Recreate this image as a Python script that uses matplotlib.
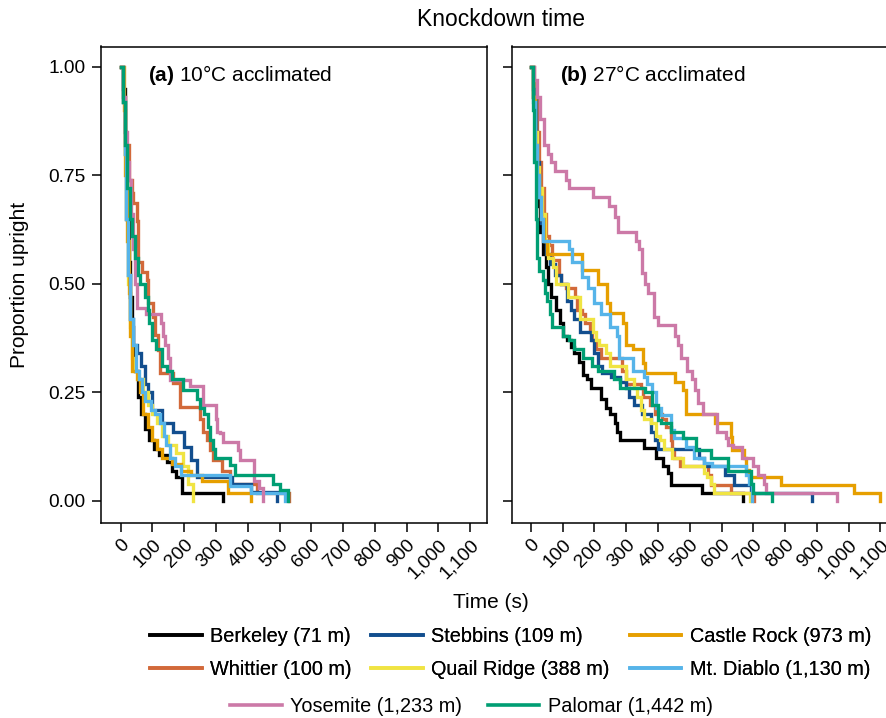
import matplotlib
matplotlib.use("Agg")
import matplotlib.pyplot as plt
from matplotlib.lines import Line2D

plt.rcParams['font.family'] = ['Liberation Sans', 'DejaVu Sans']
plt.rcParams['mathtext.fontset'] = 'custom'
plt.rcParams['mathtext.rm'] = 'Liberation Sans'
plt.rcParams['mathtext.bf'] = 'Liberation Sans:bold'

# ---------------- data ----------------
populations = ["Berkeley (71 m)", "Whittier (100 m)", "Stebbins (109 m)",
               "Quail Ridge (388 m)", "Castle Rock (973 m)", "Mt. Diablo (1,130 m)",
               "Yosemite (1,233 m)", "Palomar (1,442 m)"]
colors = ["#000000", "#D2693A", "#124E8E", "#F0E442", "#E69F00", "#56B4E9",
          "#CC79A7", "#009E73"]

# panel (a) 10 C acclimated : times (s) and proportion upright
berkeley_a_t = [0, 8, 12, 16, 20, 25, 30, 35, 40, 45, 55, 65, 75, 90, 105, 120, 145, 160, 175, 192, 321]
berkeley_a_s = [1.0, 0.95, 0.85, 0.75, 0.65, 0.55, 0.47, 0.40, 0.34, 0.30, 0.24, 0.20, 0.165, 0.14, 0.12, 0.105, 0.09, 0.07, 0.055, 0.018, 0]
whittier_a_t = [0, 8, 14, 25, 35, 40, 50, 55, 66, 82, 87, 103, 108, 118, 124, 163, 187, 250, 260, 272, 282, 292, 318, 344, 428, 530]
whittier_a_s = [1.0, 0.93, 0.82, 0.74, 0.71, 0.686, 0.644, 0.55, 0.528, 0.509, 0.456, 0.425, 0.382, 0.348, 0.294, 0.271, 0.217, 0.19, 0.16, 0.14, 0.117, 0.094, 0.07, 0.04, 0.018, 0]
stebbins_a_t = [0, 8, 12, 18, 24, 30, 40, 50, 65, 75, 85, 100, 130, 165, 200, 220, 240, 350, 410, 491]
stebbins_a_s = [1.0, 0.92, 0.8, 0.65, 0.52, 0.42, 0.36, 0.34, 0.31, 0.27, 0.25, 0.21, 0.18, 0.16, 0.125, 0.095, 0.056, 0.04, 0.02, 0]
quail_a_t = [0, 8, 12, 18, 24, 30, 35, 45, 55, 70, 85, 100, 115, 130, 150, 175, 195, 212, 229]
quail_a_s = [1.0, 0.92, 0.8, 0.65, 0.5, 0.4, 0.33, 0.3, 0.28, 0.25, 0.22, 0.2, 0.18, 0.15, 0.13, 0.11, 0.08, 0.04, 0]
castle_a_t = [0, 10, 15, 20, 25, 30, 35, 50, 60, 70, 85, 100, 115, 130, 160, 190, 220, 255, 338, 409]
castle_a_s = [1.0, 0.9, 0.75, 0.6, 0.48, 0.38, 0.3, 0.28, 0.25, 0.2, 0.17, 0.14, 0.12, 0.1, 0.085, 0.07, 0.06, 0.045, 0.018, 0]
diablo_a_t = [0, 8, 12, 18, 24, 30, 38, 48, 58, 68, 75, 95, 108, 125, 135, 142, 155, 170, 190, 345, 410, 517]
diablo_a_s = [1.0, 0.92, 0.8, 0.65, 0.52, 0.42, 0.36, 0.3, 0.28, 0.25, 0.23, 0.21, 0.2, 0.18, 0.15, 0.13, 0.1, 0.08, 0.06, 0.035, 0.018, 0]
yosemite_a_t = [0, 8, 14, 20, 26, 32, 38, 45, 51, 80, 128, 133, 138, 150, 156, 218, 260, 300, 304, 312, 323, 370, 376, 420, 435, 448]
yosemite_a_s = [1.0, 0.93, 0.85, 0.78, 0.74, 0.66, 0.58, 0.5, 0.445, 0.43, 0.41, 0.38, 0.36, 0.33, 0.279, 0.265, 0.22, 0.19, 0.16, 0.156, 0.136, 0.117, 0.094, 0.045, 0.03, 0]
palomar_a_t = [0, 8, 14, 20, 28, 35, 45, 55, 62, 75, 85, 90, 98, 110, 130, 145, 160, 195, 240, 248, 262, 275, 282, 290, 296, 345, 360, 480, 500, 525]
palomar_a_s = [1.0, 0.92, 0.82, 0.72, 0.65, 0.61, 0.56, 0.52, 0.5, 0.47, 0.44, 0.41, 0.37, 0.35, 0.31, 0.3, 0.28, 0.256, 0.235, 0.215, 0.2, 0.17, 0.14, 0.12, 0.1, 0.082, 0.06, 0.04, 0.025, 0]

# panel (b) 27 C acclimated
berkeley_b_t = [0, 6, 12, 18, 24, 30, 38, 48, 55, 62, 80, 92, 100, 115, 126, 137, 150, 165, 176, 189, 220, 235, 248, 264, 272, 280, 356, 395, 415, 430, 440, 540, 666]
berkeley_b_s = [1.0, 0.93, 0.82, 0.75, 0.68, 0.62, 0.57, 0.54, 0.5, 0.47, 0.44, 0.41, 0.38, 0.37, 0.355, 0.34, 0.32, 0.29, 0.28, 0.26, 0.235, 0.215, 0.2, 0.18, 0.16, 0.14, 0.122, 0.1, 0.08, 0.065, 0.037, 0.018, 0]
whittier_b_t = [0, 10, 18, 25, 32, 40, 48, 56, 65, 88, 95, 110, 140, 146, 160, 170, 185, 192, 205, 220, 288, 298, 345, 352, 375, 392, 412, 425, 440, 445, 450, 470, 557, 566, 630, 701]
whittier_b_s = [1.0, 0.93, 0.85, 0.78, 0.72, 0.66, 0.61, 0.59, 0.555, 0.52, 0.5, 0.49, 0.47, 0.44, 0.43, 0.41, 0.39, 0.37, 0.35, 0.33, 0.3, 0.27, 0.26, 0.24, 0.22, 0.2, 0.19, 0.17, 0.14, 0.12, 0.1, 0.08, 0.06, 0.037, 0.018, 0]
stebbins_b_t = [0, 8, 15, 20, 26, 32, 40, 48, 60, 76, 94, 112, 125, 135, 153, 190, 198, 210, 225, 253, 280, 300, 310, 325, 350, 377, 390, 400, 530, 545, 612, 640, 692, 886]
stebbins_b_s = [1.0, 0.95, 0.85, 0.78, 0.7, 0.64, 0.6, 0.57, 0.547, 0.52, 0.5, 0.46, 0.44, 0.42, 0.39, 0.37, 0.34, 0.31, 0.295, 0.285, 0.275, 0.26, 0.24, 0.22, 0.2, 0.16, 0.14, 0.12, 0.1, 0.08, 0.06, 0.037, 0.018, 0]
quail_b_t = [0, 6, 12, 18, 25, 35, 45, 55, 70, 78, 118, 155, 195, 205, 215, 235, 250, 298, 325, 335, 345, 355, 377, 395, 405, 418, 445, 480, 545, 555, 566, 575, 689]
quail_b_s = [1.0, 0.93, 0.85, 0.77, 0.72, 0.66, 0.6, 0.56, 0.54, 0.5, 0.47, 0.42, 0.39, 0.37, 0.36, 0.34, 0.31, 0.28, 0.26, 0.24, 0.21, 0.19, 0.18, 0.15, 0.14, 0.12, 0.1, 0.08, 0.065, 0.056, 0.04, 0.018, 0]
castle_b_t = [0, 8, 14, 20, 26, 32, 40, 52, 160, 210, 240, 250, 290, 300, 320, 352, 360, 455, 480, 487, 578, 629, 633, 670, 676, 686, 786, 1016, 1100]
castle_b_s = [1.0, 0.93, 0.82, 0.75, 0.7, 0.65, 0.6, 0.57, 0.532, 0.5, 0.455, 0.433, 0.41, 0.36, 0.35, 0.318, 0.295, 0.275, 0.256, 0.2, 0.18, 0.148, 0.118, 0.1, 0.072, 0.056, 0.037, 0.018, 0]
diablo_b_t = [0, 8, 14, 20, 26, 32, 38, 120, 128, 160, 180, 198, 220, 250, 270, 278, 320, 355, 365, 380, 393, 409, 440, 450, 487, 514, 545, 570, 676, 685, 695]
diablo_b_s = [1.0, 0.92, 0.82, 0.75, 0.7, 0.65, 0.6, 0.58, 0.55, 0.516, 0.49, 0.455, 0.43, 0.4, 0.38, 0.33, 0.3, 0.285, 0.27, 0.25, 0.215, 0.198, 0.164, 0.145, 0.125, 0.1, 0.087, 0.08, 0.06, 0.04, 0]
yosemite_b_t = [0, 10, 20, 30, 40, 55, 63, 75, 110, 120, 194, 246, 265, 273, 330, 340, 351, 360, 370, 387, 400, 455, 462, 471, 490, 506, 518, 525, 541, 586, 613, 620, 635, 665, 698, 715, 733, 740, 965]
yosemite_b_s = [1.0, 0.97, 0.93, 0.88, 0.82, 0.8, 0.78, 0.76, 0.74, 0.72, 0.7, 0.68, 0.655, 0.62, 0.6, 0.58, 0.525, 0.5, 0.48, 0.425, 0.405, 0.38, 0.36, 0.33, 0.3, 0.28, 0.256, 0.226, 0.2, 0.16, 0.145, 0.13, 0.125, 0.1, 0.08, 0.06, 0.04, 0.018, 0]
palomar_b_t = [0, 5, 10, 16, 20, 25, 38, 45, 52, 60, 65, 100, 120, 135, 165, 192, 210, 262, 280, 360, 380, 400, 410, 440, 480, 520, 566, 620, 692, 700, 760]
palomar_b_s = [1.0, 0.9, 0.78, 0.65, 0.56, 0.53, 0.51, 0.48, 0.46, 0.43, 0.4, 0.38, 0.37, 0.35, 0.33, 0.31, 0.3, 0.28, 0.26, 0.25, 0.22, 0.187, 0.18, 0.16, 0.145, 0.118, 0.1, 0.07, 0.04, 0.018, 0]

panel_a = [(berkeley_a_t, berkeley_a_s), (whittier_a_t, whittier_a_s), (stebbins_a_t, stebbins_a_s),
           (quail_a_t, quail_a_s), (castle_a_t, castle_a_s), (diablo_a_t, diablo_a_s),
           (yosemite_a_t, yosemite_a_s), (palomar_a_t, palomar_a_s)]
panel_b = [(berkeley_b_t, berkeley_b_s), (whittier_b_t, whittier_b_s), (stebbins_b_t, stebbins_b_s),
           (quail_b_t, quail_b_s), (castle_b_t, castle_b_s), (diablo_b_t, diablo_b_s),
           (yosemite_b_t, yosemite_b_s), (palomar_b_t, palomar_b_s)]

x_ticks = [0, 100, 200, 300, 400, 500, 600, 700, 800, 900, 1000, 1100]
x_ticklabels = ["0", "100", "200", "300", "400", "500", "600", "700", "800", "900", "1,000", "1,100"]
y_ticks = [0.0, 0.25, 0.5, 0.75, 1.0]
y_ticklabels = ["0.00", "0.25", "0.50", "0.75", "1.00"]

# ---------------- figure ----------------
W, H = 887, 718
fig = plt.figure(figsize=(W / 100, H / 100), dpi=100)

ax_a = fig.add_axes([101.5 / W, 1 - 523 / H, 385.2 / W, 476.5 / H])
ax_b = fig.add_axes([511.7 / W, 1 - 523 / H, 385.2 / W, 476.5 / H])

for ax, data, label in [(ax_a, panel_a, r"$\mathbf{(a)}$ 10°C acclimated"),
                        (ax_b, panel_b, r"$\mathbf{(b)}$ 27°C acclimated")]:
    for (t, s), c in zip(data, colors):
        ax.plot(t, s, drawstyle="steps-post", color=c, lw=2.4, solid_joinstyle="miter")
    ax.set_xlim(-60.5, 1152)
    ax.set_ylim(-0.0507, 1.047)
    ax.set_xticks(x_ticks)
    ax.set_xticklabels(x_ticklabels, rotation=45, ha="right", va="top",
                       rotation_mode="anchor", fontsize=13.8)
    ax.set_yticks(y_ticks)
    ax.tick_params(axis="both", length=6.3, width=1.1, color="black")
    ax.tick_params(axis="x", pad=3)
    ax.tick_params(axis="y", pad=5)
    for sp in ax.spines.values():
        sp.set_linewidth(1.1)
    ax.text(0.121 if ax is ax_a else 0.125, 0.94, label, transform=ax.transAxes,
            fontsize=15, va="center", ha="left")

ax_a.set_yticklabels(y_ticklabels, fontsize=13.8)
ax_b.set_yticklabels([])

fig.text(501 / W, 1 - 20 / H, "Knockdown time", ha="center", va="center", fontsize=16.5)
fig.text(491 / W, 1 - 603 / H, "Time (s)", ha="center", va="center", fontsize=15)
fig.text(20 / W, 1 - 285 / H, "Proportion upright", ha="center", va="center",
         rotation=90, fontsize=15)

# legend
handles = [Line2D([], [], color=c, lw=2.6) for c in colors]
order1 = [0, 1, 2, 3, 4, 5]
leg1 = fig.legend([handles[i] for i in order1], [populations[i] for i in order1],
                  ncol=3, loc="upper left", bbox_to_anchor=(150 / W, 1 - 627 / H),
                  frameon=False, fontsize=14.3, handlelength=2.6, handletextpad=0.42,
                  columnspacing=1.0, labelspacing=0.7, borderpad=0, borderaxespad=0)
leg2 = fig.legend([handles[6], handles[7]], [populations[6], populations[7]],
                  ncol=2, loc="upper left", bbox_to_anchor=(230 / W, 1 - 697 / H),
                  frameon=False, fontsize=14.3, handlelength=2.6, handletextpad=0.42,
                  columnspacing=1.3, borderpad=0, borderaxespad=0)
fig.add_artist(leg1)

fig.savefig("out.png", dpi=100)
